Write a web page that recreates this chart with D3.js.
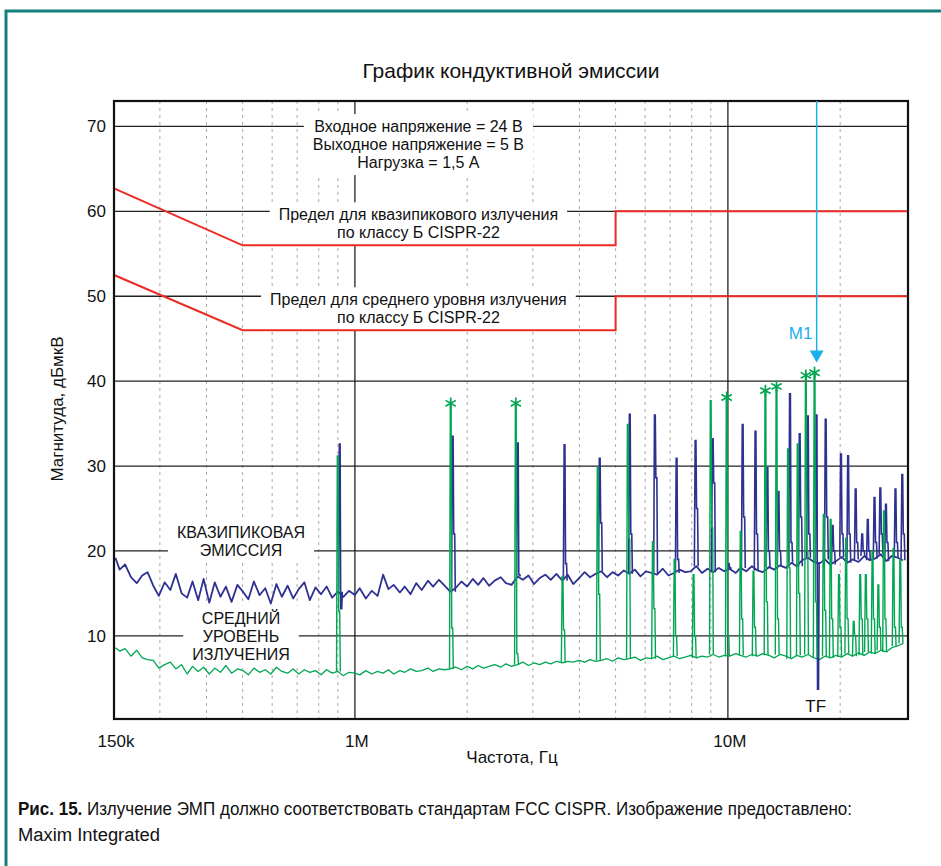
<!DOCTYPE html>
<html>
<head>
<meta charset="utf-8">
<script src="https://cdn.jsdelivr.net/npm/d3@7"></script>
<style>
  body { margin: 0; background: #fff; }
  svg { display: block; }
  text { font-family: "Liberation Sans", Arial, sans-serif; fill: #111; }
</style>
</head>
<body>
<svg id="chart"></svg>
<script>
// frequency grid of the noise floor, MHz
const floorMHz = [
  0.228, 0.234, 0.242, 0.251, 0.260, 0.269, 0.278, 0.288, 0.298, 0.309, 0.320, 0.331, 0.343, 0.355, 0.367,
  0.380, 0.393, 0.407, 0.421, 0.436, 0.451, 0.467, 0.484, 0.501, 0.518, 0.536, 0.555, 0.575, 0.595, 0.616,
  0.637, 0.660, 0.683, 0.707, 0.732, 0.757, 0.784, 0.811, 0.840, 0.869, 0.900, 0.931, 0.964,
  1.00, 1.03, 1.07, 1.11, 1.15, 1.19, 1.23, 1.27, 1.32, 1.36, 1.41, 1.46, 1.51, 1.57, 1.62, 1.68, 1.74, 1.80,
  1.86, 1.93, 2.00, 2.07, 2.14, 2.21, 2.29, 2.37, 2.46, 2.54, 2.63, 2.73, 2.82, 2.92, 3.02, 3.13, 3.24, 3.35,
  3.47, 3.60, 3.72, 3.85, 3.99, 4.13, 4.27, 4.42, 4.58, 4.74, 4.91, 5.08, 5.26, 5.44, 5.63, 5.83, 6.03, 6.25,
  6.46, 6.69, 6.93, 7.17, 7.42, 7.68, 7.95, 8.23, 8.52, 8.82, 9.13, 9.45, 9.78,
  10.1, 10.5, 10.8, 11.2, 11.6, 12.0, 12.4, 12.9, 13.3, 13.8, 14.3, 14.8, 15.3, 15.8, 16.4, 17.0, 17.6, 18.2,
  18.8, 19.5, 20.2, 20.9, 21.6, 22.4, 23.2, 24.0, 24.8, 25.7, 26.6, 27.5, 28.5, 29.5
];
// quasi-peak floor, dBuV
const qpFloor = [
  19.2, 17.8, 18.4, 16.9, 16.2, 17.1, 17.5, 15.9, 14.7, 16.3, 15.4, 17.3, 15.0, 14.5, 16.4,
  14.2, 16.7, 13.9, 16.3, 14.6, 15.8, 14.0, 16.0, 15.2, 14.3, 16.4, 14.8, 15.6, 13.8, 16.1,
  14.6, 15.9, 14.4, 15.5, 16.3, 14.2, 15.7, 14.9, 15.8, 14.5, 15.2, 14.6, 15.3,
  14.8, 15.6, 14.4, 15.3, 14.7, 17.2, 15.5, 16.0, 15.1, 15.8, 14.9, 16.2, 15.4, 16.5, 15.8, 16.6, 15.9, 15.2,
  15.6, 16.4, 15.8, 16.7, 16.0, 16.8, 15.9, 16.5, 16.9, 16.2, 16.0, 17.0, 16.6, 17.1, 16.1, 16.8, 17.2, 16.6,
  17.3, 16.5, 17.2, 16.1, 16.8, 17.5, 16.9, 17.3, 17.6, 16.9, 17.5, 17.1, 17.7, 17.3, 17.8, 17.0, 17.6, 17.4,
  17.2, 17.9, 17.1, 17.4, 17.8, 17.5, 17.6, 18.2, 17.4, 17.9, 17.5, 18.0, 17.6,
  17.9, 17.4, 18.0, 17.6, 18.2, 17.7, 17.5, 18.1, 17.8, 18.3, 18.0, 18.6, 18.2, 18.9, 19.2, 18.7, 18.5, 19.0,
  18.4, 18.8, 19.3, 18.6, 19.0, 18.7, 19.4, 18.9, 19.1, 19.6, 18.8, 19.4, 19.2, 18.9
];
// average floor, dBuV
const avgFloor = [
  8.6, 8.2, 8.5, 7.6, 8.3, 7.4, 7.2, 7.1, 6.2, 6.6, 6.9, 6.1, 6.6, 5.5, 6.4,
  5.8, 6.3, 5.5, 6.2, 5.7, 6.5, 5.6, 6.1, 5.9, 5.4, 6.2, 5.7, 6.0, 5.5, 6.3,
  5.8, 5.6, 6.1, 5.5, 6.0, 5.7, 5.9, 5.4, 6.0, 5.6, 5.8, 5.3, 5.7,
  5.6, 5.4, 5.9, 5.5, 5.8, 5.6, 6.0, 5.5, 5.9, 5.7, 6.1, 5.8, 5.9, 6.2, 5.8, 6.1, 6.0, 6.1,
  6.3, 6.0, 6.4, 6.1, 6.5, 6.2, 6.4, 6.6, 6.3, 6.7, 6.4, 6.6, 6.9, 6.5, 6.8, 6.6, 6.9, 6.7,
  7.0, 6.8, 7.0, 6.9, 7.1, 6.9, 7.2, 7.0, 7.1, 7.3, 7.0, 7.4, 7.2, 7.3, 7.5, 7.1, 7.4, 7.3,
  7.6, 7.2, 7.4, 7.6, 7.3, 7.5, 7.7, 7.4, 7.6, 7.5, 7.8, 7.5, 7.7,
  7.6, 7.9, 7.7, 7.5, 7.8, 7.6, 7.9, 7.7, 7.4, 7.8, 7.6, 7.3, 7.7, 7.5, 7.8, 7.4, 7.2, 7.6,
  7.4, 7.7, 7.5, 7.9, 7.6, 8.0, 7.7, 8.1, 7.9, 8.3, 8.1, 8.6, 8.8, 9.1
];

// switching harmonics
const spikeMHz    = [0.906, 1.82, 2.72, 3.63, 4.51, 5.43, 6.34, 7.25, 8.15, 9.06, 10.0, 10.9, 11.8, 12.7, 13.6, 14.6,
                     15.5, 16.3, 17.2, 18.2, 19.0, 20.0, 20.9, 21.9, 22.8, 23.6, 24.6, 25.5, 26.4, 28.0, 29.2];
const qpPeak      = [32.6, 33.5, 32.7, 32.5, 30.9, 36.1, 36.0, 30.9, 33.0, 33.2, 18.5, 34.9, 34.1, 29.8, 27.0, 38.5,
                     33.8, 35.9, 36.0, 35.5, 23.0, 31.4, 31.2, 27.3, 22.0, 23.7, 26.3, 27.4, 25.5, 27.3, 29.0];
const qpShoulder  = [13.2, 22.0, 17.2, 18.5, 23.3, 22.0, 28.6, 19.0, 25.0, 28.0, 18.0, 24.0, 22.0, 20.0, 20.0, 21.0,
                     24.0, 22.0, 3.7, 24.0, 20.0, 22.0, 22.0, 21.0, 20.0, 20.0, 21.0, 22.0, 21.0, 21.0, 22.0];
const avgPeak     = [31.2, 37.5, 37.5, 17.0, 29.9, 34.9, 21.1, 19.0, 17.2, 37.7, 38.2, 22.3, 17.6, 39.0, 39.5, 32.0,
                     32.6, 40.8, 41.1, 24.3, 23.7, 17.2, 21.5, 11.7, 17.2, 17.2, 20.0, 16.0, 24.7, 20.3, 19.0];
const avgShoulder = [12.9, 10.9, 7.9, 10.7, 14.9, 21.4, 13.2, 10.0, 10.0, 22.7, 10.0, 12.0, 11.0, 14.0, 12.0, 18.0,
                     15.0, 20.0, 14.0, 13.0, 12.0, 11.0, 12.0, 10.0, 12.0, 12.0, 12.0, 11.0, 12.0, 11.0, 11.0];
const avgMarked   = [0, 1, 1, 0, 0, 0, 0, 0, 0, 0, 1, 0, 0, 1, 1, 0, 0, 1, 1, 0, 0, 0, 0, 0, 0, 0, 0, 0, 0, 0, 0];

// CISPR-22 class B limits
const limitMHz = [0.226, 0.5, 5, 5, 30.4];
const qpLimit  = [62.7, 56, 56, 60, 60];
const avgLimit = [52.5, 46, 46, 50, 50];

const yTicks = [10, 20, 30, 40, 50, 60, 70];
const xMajor = [1, 10];
const xMinor = [0.3, 0.4, 0.5, 0.6, 0.7, 0.8, 0.9, 2, 3, 4, 5, 6, 7, 8, 9, 20];
const xTickLabels = [[0.226, "150k"], [1, "1M"], [10, "10M"]];

const notes = [
  {lines: ["Входное напряжение = 24 В", "Выходное напряжение = 5 В", "Нагрузка = 1,5 А"], f: 1.48, db: 70},
  {lines: ["Предел для квазипикового излучения", "по классу Б CISPR-22"], f: 1.48, db: 59.6},
  {lines: ["Предел для среднего уровня излучения", "по классу Б CISPR-22"], f: 1.48, db: 49.6},
  {lines: ["КВАЗИПИКОВАЯ", "ЭМИССИЯ"], f: 0.495, db: 22.2},
  {lines: ["СРЕДНИЙ", "УРОВЕНЬ", "ИЗЛУЧЕНИЯ"], f: 0.495, db: 12.0}
];
const marker = {label: "M1", f: 17.3, db: 42.2};
const tfLabel = {label: "TF", f: 17.2, db: 1.7};

const W = 941, H = 866;
const plot = {left: 114, right: 908, top: 101, bottom: 719};
const BLUE = "#2e3192", GREEN = "#00a651", RED = "#ee2a24", CYAN = "#1cb0ea";

const svg = d3.select("#chart").attr("width", W).attr("height", H);

svg.append("rect")
    .attr("x", 6).attr("y", 11)
    .attr("width", W + 20).attr("height", H + 20)
    .attr("fill", "none")
    .attr("stroke", "#16807c")
    .attr("stroke-width", 3);

svg.append("text")
    .attr("x", 511).attr("y", 78)
    .attr("text-anchor", "middle")
    .attr("font-size", 21)
    .text("График кондуктивной эмиссии");

const x = d3.scaleLog().domain([0.226, 30.4]).range([plot.left, plot.right]);
const y = d3.scaleLinear().domain([0.2, 73]).range([plot.bottom, plot.top]);

// grid
const grid = svg.append("g");
grid.selectAll("line.minor").data(xMinor).enter().append("line")
    .attr("x1", d => x(d)).attr("x2", d => x(d))
    .attr("y1", plot.top).attr("y2", plot.bottom)
    .attr("stroke", "#a8a8a8").attr("stroke-width", 1)
    .attr("stroke-dasharray", "3,4");
grid.selectAll("line.major").data(xMajor).enter().append("line")
    .attr("x1", d => x(d)).attr("x2", d => x(d))
    .attr("y1", plot.top).attr("y2", plot.bottom)
    .attr("stroke", "#222").attr("stroke-width", 1.3);
grid.selectAll("line.h").data(yTicks).enter().append("line")
    .attr("x1", plot.left).attr("x2", plot.right)
    .attr("y1", d => y(d)).attr("y2", d => y(d))
    .attr("stroke", "#222").attr("stroke-width", 1.3);

const boxes = svg.append("g");
const traces = svg.append("g");

// floors
const line = d3.line().x(d => x(d[0])).y(d => y(d[1]));
traces.append("path")
    .datum(d3.zip(floorMHz, qpFloor))
    .attr("d", line)
    .attr("fill", "none").attr("stroke", BLUE).attr("stroke-width", 1.8)
    .attr("stroke-linejoin", "round");
traces.append("path")
    .datum(d3.zip(floorMHz, avgFloor))
    .attr("d", line)
    .attr("fill", "none").attr("stroke", GREEN).attr("stroke-width", 1.3)
    .attr("stroke-linejoin", "round");

// spikes: narrow pulses rising from the floor
const bis = d3.bisector(d => d).center;
function floorAt(arr, f) { return arr[bis(floorMHz, f)]; }
function pulse(f, base, peak, shoulder, dx) {
    const x0 = x(f) + dx;
    return d3.line()([
        [x0 - 1.2, y(base)], [x0 - 0.4, y(peak)], [x0 + 0.4, y(peak)],
        [x0 + 1.0, y(shoulder)], [x0 + 2.0, y(shoulder)], [x0 + 2.6, y(base)]
    ]);
}
traces.selectAll("path.qp").data(spikeMHz).enter().append("path")
    .attr("d", (f, i) => pulse(f, floorAt(qpFloor, f), qpPeak[i], qpShoulder[i], 0.8))
    .attr("fill", "none").attr("stroke", BLUE).attr("stroke-width", 1.6);
traces.selectAll("path.avg").data(spikeMHz).enter().append("path")
    .attr("d", (f, i) => pulse(f, floorAt(avgFloor, f), avgPeak[i], avgShoulder[i], -1.2))
    .attr("fill", "none").attr("stroke", GREEN).attr("stroke-width", 1.4);

const star = d3.symbol().type(d3.symbolAsterisk).size(100);
traces.selectAll("path.star")
    .data(spikeMHz.map((f, i) => [f, avgPeak[i], avgMarked[i]]).filter(d => d[2]))
    .enter().append("path")
    .attr("d", star)
    .attr("transform", d => `translate(${x(d[0]) - 1.2},${y(d[1]) + 1})`)
    .attr("fill", "none").attr("stroke", GREEN).attr("stroke-width", 1.7);

// limit lines
[qpLimit, avgLimit].forEach(lim => {
    svg.append("path")
        .datum(d3.zip(limitMHz, lim))
        .attr("d", line)
        .attr("fill", "none").attr("stroke", RED).attr("stroke-width", 2);
});

// frame
svg.append("rect")
    .attr("x", plot.left).attr("y", plot.top)
    .attr("width", plot.right - plot.left).attr("height", plot.bottom - plot.top)
    .attr("fill", "none").attr("stroke", "#111").attr("stroke-width", 2.2);

// axis labels
svg.append("g").selectAll("text").data(yTicks).enter().append("text")
    .attr("x", plot.left - 8).attr("y", d => y(d)).attr("dy", "0.35em")
    .attr("text-anchor", "end").attr("font-size", 17)
    .text(d => d);
svg.append("g").selectAll("text").data(xTickLabels).enter().append("text")
    .attr("x", d => x(d[0]) + 2).attr("y", plot.bottom + 22).attr("dy", "0.35em")
    .attr("text-anchor", "middle").attr("font-size", 17)
    .text(d => d[1]);
svg.append("text")
    .attr("x", 512).attr("y", 763)
    .attr("text-anchor", "middle").attr("font-size", 17)
    .text("Частота, Гц");
svg.append("text")
    .attr("transform", "translate(63,409) rotate(-90)")
    .attr("text-anchor", "middle").attr("font-size", 17)
    .text("Магнитуда, дБмкВ");

// notes with white boxes behind them
notes.forEach(n => {
    const t = svg.append("text")
        .attr("text-anchor", "middle")
        .attr("font-size", 16);
    t.selectAll("tspan").data(n.lines).enter().append("tspan")
        .attr("x", x(n.f))
        .attr("y", (d, i) => y(n.db) + i * 18)
        .attr("dy", "0.35em")
        .text(d => d);
    const b = t.node().getBBox();
    boxes.append("rect")
        .attr("x", b.x - 9).attr("y", b.y - 4)
        .attr("width", b.width + 18).attr("height", b.height + 8)
        .attr("fill", "#fff");
});

// marker M1
const mx = x(marker.f), my = y(marker.db);
svg.append("line")
    .attr("x1", mx).attr("x2", mx).attr("y1", plot.top).attr("y2", my - 10)
    .attr("stroke", CYAN).attr("stroke-width", 1.5);
svg.append("path")
    .attr("d", `M${mx - 7},${my - 12}L${mx + 7},${my - 12}L${mx},${my}Z`)
    .attr("fill", CYAN);
svg.append("text")
    .attr("x", mx - 16).attr("y", my - 29).attr("dy", "0.35em")
    .attr("text-anchor", "middle").attr("font-size", 17)
    .style("fill", CYAN)
    .text(marker.label);
svg.append("text")
    .attr("x", x(tfLabel.f)).attr("y", y(tfLabel.db)).attr("dy", "0.35em")
    .attr("text-anchor", "middle").attr("font-size", 17)
    .text(tfLabel.label);

// caption
const cap = svg.append("g").style("font-family", "'Liberation Sans Narrow', 'DejaVu Sans Condensed', sans-serif");
const c1 = cap.append("text").attr("x", 18).attr("y", 815).attr("font-size", 18)
    .attr("textLength", 834).attr("lengthAdjust", "spacingAndGlyphs");
c1.append("tspan").attr("font-weight", "bold").text("Рис. 15.");
c1.append("tspan").text(" Излучение ЭМП должно соответствовать стандартам FCC CISPR. Изображение предоставлено:");
cap.append("text").attr("x", 18).attr("y", 841).attr("font-size", 18)
    .attr("textLength", 142).attr("lengthAdjust", "spacingAndGlyphs")
    .text("Maxim Integrated");
</script>
</body>
</html>
